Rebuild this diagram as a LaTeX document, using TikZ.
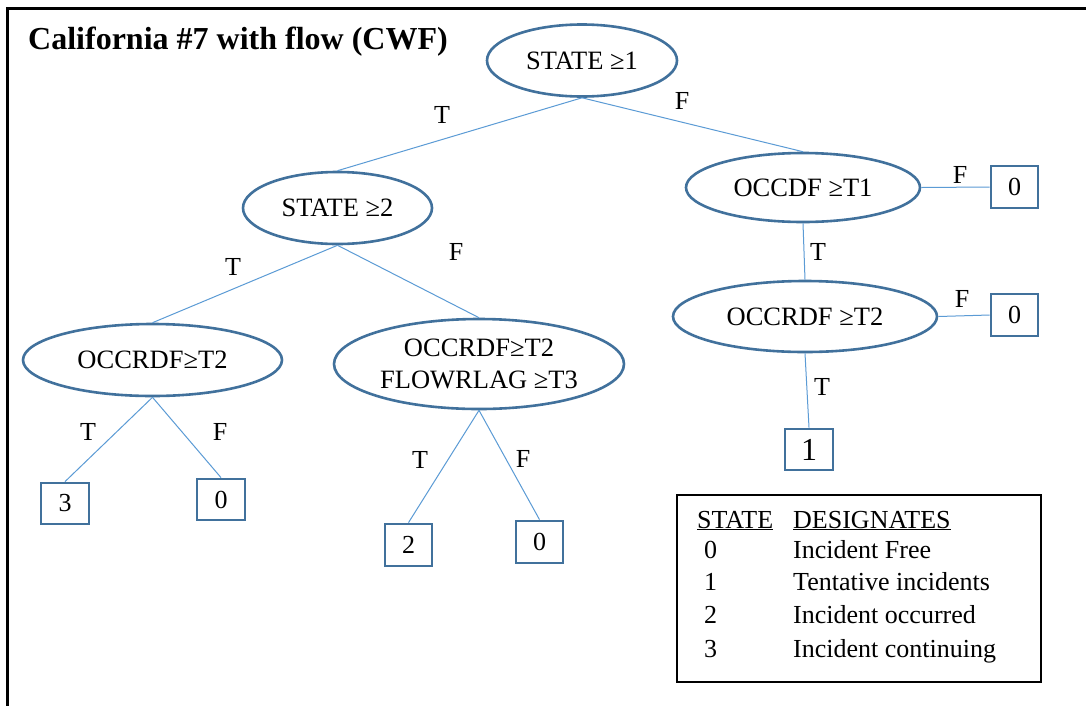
\documentclass[tikz,border=0pt]{standalone}
\usepackage{fontspec}
\setmainfont{Liberation Serif}
\usetikzlibrary{shapes.geometric}
\definecolor{shapeblue}{HTML}{41719C}
\definecolor{linkblue}{HTML}{5B9BD5}
\begin{document}
\begin{tikzpicture}[x=1pt,y=-1pt,
  cond/.style={ellipse, draw=shapeblue, line width=2.6pt, inner sep=0pt, font=\fontsize{26.5}{32}\selectfont, align=center},
  leaf/.style={rectangle, draw=shapeblue, line width=2.8pt, minimum width=47pt, minimum height=42pt, inner sep=0pt, font=\fontsize{26}{30}\selectfont},
  link/.style={draw=linkblue, line width=1pt},
  lbl/.style={font=\fontsize{26}{30}\selectfont, inner sep=0pt},
  leg/.style={font=\fontsize{26}{30}\selectfont, inner sep=0pt, anchor=base west}]
\useasboundingbox (0,0) rectangle (1086,705);
\fill[white] (0,0) rectangle (1086,705);
\draw[line width=3pt] (7,706) -- (7,8) -- (1087,8);

\node[anchor=base west, inner sep=0pt, font=\fontsize{32}{36}\selectfont\bfseries] (title) at (28,49) {California \#7 with flow (CWF)};

% condition nodes
\node[cond, minimum width=190pt, minimum height=72pt] (A) at (582,60.5) {STATE ≥1};
\node[cond, minimum width=189pt, minimum height=72pt] (B) at (337.5,208) {STATE ≥2};
\node[cond, minimum width=234pt, minimum height=69pt] (C) at (803,187.5) {OCCDF ≥T1};
\node[cond, minimum width=264pt, minimum height=71pt] (D) at (805,316.5) {OCCRDF ≥T2};
\node[cond, minimum width=259pt, minimum height=72pt] (E) at (152.5,360) {OCCRDF≥T2};
\node[cond, minimum width=290pt, minimum height=90pt] (F) at (479,364) {OCCRDF≥T2\\FLOWRLAG ≥T3};

% leaves
\node[leaf] (C0) at (1014.5,187) {0};
\node[leaf] (D0) at (1014.5,315) {0};
\node[leaf, minimum width=48pt, minimum height=41pt, font=\fontsize{32}{36}\selectfont] (D1) at (809,449.5) {1};
\node[leaf, minimum width=48pt, minimum height=41pt] (E3) at (65,503.5) {3};
\node[leaf, minimum width=48pt, minimum height=41pt] (E0) at (221,499.5) {0};
\node[leaf] (F2) at (408.5,545) {2};
\node[leaf] (F0) at (539.5,542) {0};

% connectors
\draw[link] (A.south) -- (B.north);
\draw[link] (A.south) -- (C.north);
\draw[link] (B.south) -- (E.north);
\draw[link] (B.south) -- (F.north);
\draw[link] (C.east) -- (C0.west);
\draw[link] (C.south) -- (D.north);
\draw[link] (D.east) -- (D0.west);
\draw[link] (D.south) -- (D1.north);
\draw[link] (E.south) -- (E3.north);
\draw[link] (E.south) -- (E0.north);
\draw[link] (F.south) -- (F2.north);
\draw[link] (F.south) -- (F0.north);

% edge labels
\node[lbl] (lAB) at (442,115) {T};
\node[lbl] (lAC) at (682,101) {F};
\node[lbl] (lBE) at (233,267) {T};
\node[lbl] (lBF) at (456,252) {F};
\node[lbl] (lCC) at (960,175) {F};
\node[lbl] (lCD) at (818,252) {T};
\node[lbl] (lDD) at (962,299) {F};
\node[lbl] (lDL) at (822,387) {T};
\node[lbl] (lE3) at (88,432) {T};
\node[lbl] (lE0) at (220,432) {F};
\node[lbl] (lF2) at (420,460) {T};
\node[lbl] (lF0) at (523,459) {F};

% legend
\node[draw, line width=1.2pt, minimum width=364pt, minimum height=187pt, inner sep=0pt] (legend) at (859,588.5) {};
\node[leg] (h1) at (697,528) {\underline{STATE}};
\node[leg] (h2) at (793,528) {\underline{DESIGNATES}};
\node[leg] (s0) at (704,558) {0};
\node[leg] (d0) at (793,558) {Incident Free};
\node[leg] (s1) at (704,590) {1};
\node[leg] (d1) at (793,590) {Tentative incidents};
\node[leg] (s2) at (704,623) {2};
\node[leg] (d2) at (793,623) {Incident occurred};
\node[leg] (s3) at (704,657) {3};
\node[leg] (d3) at (793,657) {Incident continuing};
\end{tikzpicture}
\end{document}
